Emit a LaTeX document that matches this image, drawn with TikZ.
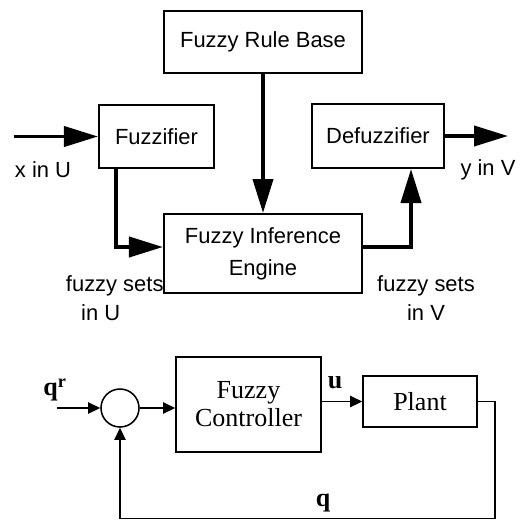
\documentclass[tikz,border=0pt]{standalone}
\usepackage{fontspec}
\setmainfont{Liberation Sans}
\newfontfamily\timesfont{Liberation Serif}
\usetikzlibrary{arrows.meta, positioning}

\begin{document}
\begin{tikzpicture}[x=0.025cm,y=-0.025cm,
		topbox/.style={draw, line width=1.4pt, inner sep=0pt, font=\fontsize{15.6}{22.7}\selectfont, align=center},
		botbox/.style={draw, line width=1.1pt, inner sep=0pt, font=\timesfont\fontsize{18.5}{20}\selectfont, align=center},
		toplbl/.style={font=\fontsize{15.6}{21}\selectfont, align=center},
		botlbl/.style={font=\timesfont\bfseries\fontsize{18.5}{20}\selectfont},
		fat/.style={line width=2.8pt, -{Triangle[length=0.85cm,width=0.5cm]}},
		thin/.style={line width=1.1pt, -{Triangle[length=0.3cm,width=0.28cm]}}]
		\useasboundingbox (0,0) rectangle (524,520);

		% Fuzzy-System
		\node[topbox, minimum width=4.95cm, minimum height=1.55cm] (rule) at (263,42) {Fuzzy Rule Base};
		\node[topbox, minimum width=2.875cm, minimum height=1.575cm] (fuzz) at (156.5,136.5) {Fuzzifier};
		\node[topbox, minimum width=3.3cm, minimum height=1.6cm] (defuzz) at (378,136) {Defuzzifier};
		\node[topbox, minimum width=4.95cm, minimum height=1.975cm] (infer) at (263,253.5) {Fuzzy Inference\\Engine};
		\coordinate (xin) at (14,136.5);
		\coordinate (yout) at (508,136);

		\draw[fat] (xin) -- (fuzz.west);
		\draw[fat] (defuzz.east) -- (yout);
		\draw[fat] (rule.south) -- (infer.north);
		\draw[fat] (fuzz.south -| 116,0) |- (infer.west |- 0,247);
		\draw[fat] (infer.east |- 0,247) -| (defuzz.south -| 411,0);

		\node[toplbl] (xlbl) at (43,170) {x in U};
		\node[toplbl] (ylbl) at (488,170) {y in V};
		\node[toplbl, anchor=west, align=left] (setu) at (61,298) {fuzzy sets\\\hspace*{0.38cm}in U};
		\node[toplbl] (setv) at (426,298) {fuzzy sets\\in V};

		% Regelkreis
		\node[draw, circle, line width=1.1pt, minimum size=0.95cm, inner sep=0pt] (sum) at (120,408) {};
		\node[botbox, minimum width=3.625cm, minimum height=2.375cm] (ctrl) at (248.5,404.5) {Fuzzy\\Controller};
		\node[botbox, minimum width=2.85cm, minimum height=1.275cm] (plant) at (420,401.5) {Plant};
		\coordinate (qin) at (57,408);
		\coordinate (back) at (495,518.5);

		\draw[thin] (qin) -- (sum.west);
		\draw[thin] (sum.east) -- (ctrl.west |- sum.east);
		\draw[thin] (ctrl.east |- plant.west) -- (plant.west);
		\draw[thin] (plant.east) -| (back) -| (sum.south);

		\node[botlbl] (qr) at (55,390) {q\textsuperscript{r}};
		\node[botlbl] (ulbl) at (335,383) {u};
		\node[botlbl] (qlbl) at (323,503) {q};
	\end{tikzpicture}
\end{document}
